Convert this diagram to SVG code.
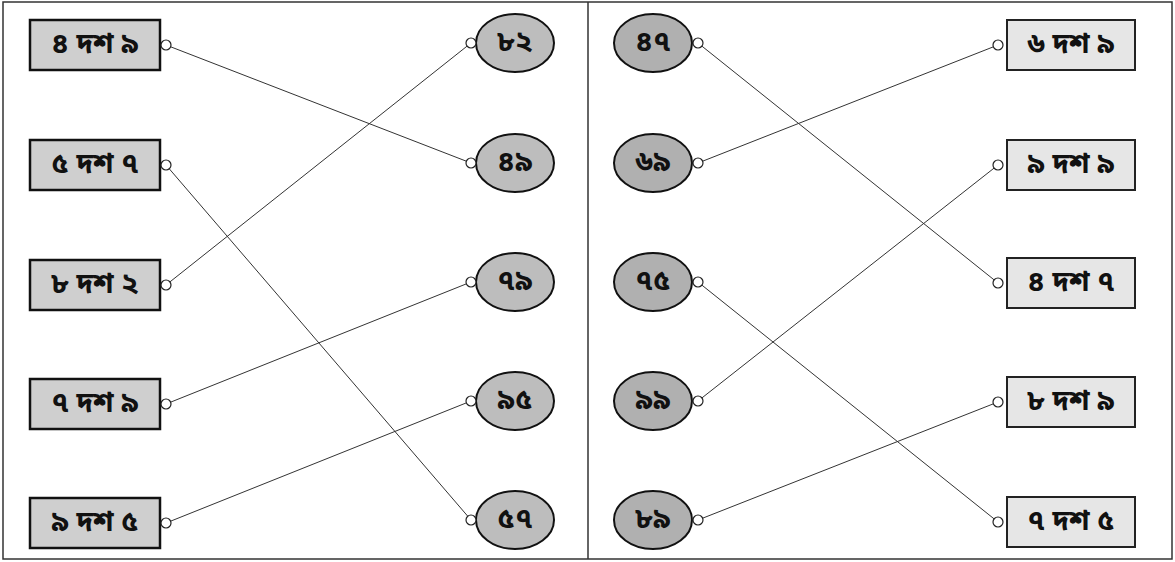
<svg xmlns="http://www.w3.org/2000/svg" width="1175" height="562" viewBox="0 0 1175 562">
<style>
.frame{fill:none;stroke:#333;stroke-width:1.5}
.boxL{fill:#cfcfcf;stroke:#111;stroke-width:2.5}
.boxR{fill:#e6e6e6;stroke:#222;stroke-width:2}
.ovL{fill:#bdbdbd;stroke:#111;stroke-width:2}
.ovR{fill:#b0b0b0;stroke:#111;stroke-width:2}
.dot{fill:#fff;stroke:#222;stroke-width:1.2}
.t{font-family:"Noto Sans Bengali","Noto Serif Bengali","Lohit Bengali","Noto Sans",sans-serif;font-size:29px;font-weight:bold;fill:#111;text-anchor:middle;dominant-baseline:central}
.ln{stroke:#333;stroke-width:1;fill:none}
</style>
<rect class="frame" x="3" y="2" width="1169" height="557"/>
<line class="frame" x1="588" y1="2" x2="588" y2="559"/>
<g id="connectors">
<line class="ln" x1="166" y1="45" x2="471" y2="163"/>
<line class="ln" x1="166" y1="165" x2="471" y2="520"/>
<line class="ln" x1="166" y1="285" x2="471" y2="43"/>
<line class="ln" x1="166" y1="404" x2="471" y2="282"/>
<line class="ln" x1="166" y1="523" x2="471" y2="401"/>
<line class="ln" x1="698" y1="43" x2="998" y2="283"/>
<line class="ln" x1="698" y1="163" x2="998" y2="45"/>
<line class="ln" x1="698" y1="282" x2="998" y2="522"/>
<line class="ln" x1="698" y1="401" x2="998" y2="165"/>
<line class="ln" x1="698" y1="520" x2="998" y2="402"/>
</g>
<g id="L1"><rect class="boxL" x="30" y="20" width="130" height="50"/><circle class="dot" cx="166" cy="45" r="5"/><text class="t" x="95" y="45">৪ দশ ৯</text></g>
<g id="L2"><rect class="boxL" x="30" y="140" width="130" height="50"/><circle class="dot" cx="166" cy="165" r="5"/><text class="t" x="95" y="165">৫ দশ ৭</text></g>
<g id="L3"><rect class="boxL" x="30" y="260" width="130" height="50"/><circle class="dot" cx="166" cy="285" r="5"/><text class="t" x="95" y="285">৮ দশ ২</text></g>
<g id="L4"><rect class="boxL" x="30" y="379" width="130" height="50"/><circle class="dot" cx="166" cy="404" r="5"/><text class="t" x="95" y="404">৭ দশ ৯</text></g>
<g id="L5"><rect class="boxL" x="30" y="498" width="130" height="50"/><circle class="dot" cx="166" cy="523" r="5"/><text class="t" x="95" y="523">৯ দশ ৫</text></g>
<g id="O1"><ellipse class="ovL" cx="515" cy="43" rx="39" ry="29"/><circle class="dot" cx="471" cy="43" r="5"/><text class="t" x="515" y="43">৮২</text></g>
<g id="O2"><ellipse class="ovL" cx="515" cy="163" rx="39" ry="29"/><circle class="dot" cx="471" cy="163" r="5"/><text class="t" x="515" y="163">৪৯</text></g>
<g id="O3"><ellipse class="ovL" cx="515" cy="282" rx="39" ry="29"/><circle class="dot" cx="471" cy="282" r="5"/><text class="t" x="515" y="282">৭৯</text></g>
<g id="O4"><ellipse class="ovL" cx="515" cy="401" rx="39" ry="29"/><circle class="dot" cx="471" cy="401" r="5"/><text class="t" x="515" y="401">৯৫</text></g>
<g id="O5"><ellipse class="ovL" cx="515" cy="520" rx="39" ry="29"/><circle class="dot" cx="471" cy="520" r="5"/><text class="t" x="515" y="520">৫৭</text></g>
<g id="P1"><ellipse class="ovR" cx="653" cy="43" rx="39" ry="29"/><circle class="dot" cx="698" cy="43" r="5"/><text class="t" x="653" y="43">৪৭</text></g>
<g id="P2"><ellipse class="ovR" cx="653" cy="163" rx="39" ry="29"/><circle class="dot" cx="698" cy="163" r="5"/><text class="t" x="653" y="163">৬৯</text></g>
<g id="P3"><ellipse class="ovR" cx="653" cy="282" rx="39" ry="29"/><circle class="dot" cx="698" cy="282" r="5"/><text class="t" x="653" y="282">৭৫</text></g>
<g id="P4"><ellipse class="ovR" cx="653" cy="401" rx="39" ry="29"/><circle class="dot" cx="698" cy="401" r="5"/><text class="t" x="653" y="401">৯৯</text></g>
<g id="P5"><ellipse class="ovR" cx="653" cy="520" rx="39" ry="29"/><circle class="dot" cx="698" cy="520" r="5"/><text class="t" x="653" y="520">৮৯</text></g>
<g id="R1"><rect class="boxR" x="1007" y="20" width="128" height="50"/><circle class="dot" cx="998" cy="45" r="5"/><text class="t" x="1071" y="45">৬ দশ ৯</text></g>
<g id="R2"><rect class="boxR" x="1007" y="140" width="128" height="50"/><circle class="dot" cx="998" cy="165" r="5"/><text class="t" x="1071" y="165">৯ দশ ৯</text></g>
<g id="R3"><rect class="boxR" x="1007" y="258" width="128" height="50"/><circle class="dot" cx="998" cy="283" r="5"/><text class="t" x="1071" y="283">৪ দশ ৭</text></g>
<g id="R4"><rect class="boxR" x="1007" y="377" width="128" height="50"/><circle class="dot" cx="998" cy="402" r="5"/><text class="t" x="1071" y="402">৮ দশ ৯</text></g>
<g id="R5"><rect class="boxR" x="1007" y="497" width="128" height="50"/><circle class="dot" cx="998" cy="522" r="5"/><text class="t" x="1071" y="522">৭ দশ ৫</text></g>
</svg>
